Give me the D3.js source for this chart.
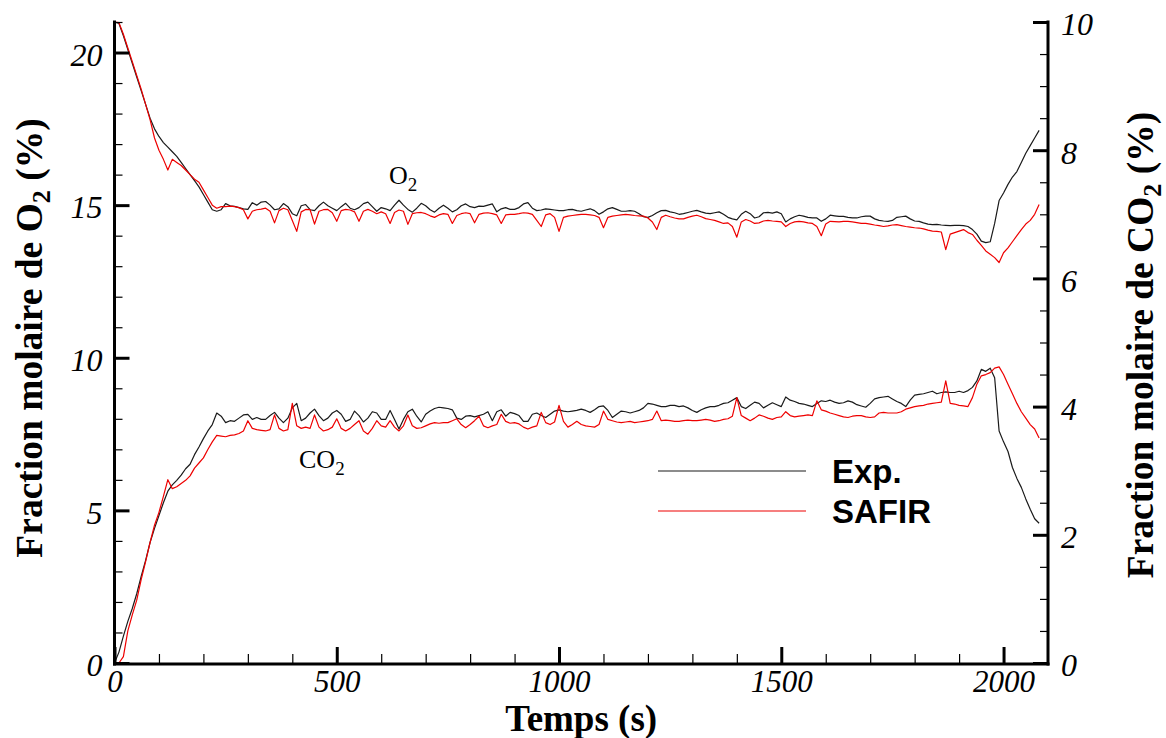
<!DOCTYPE html>
<html><head><meta charset="utf-8">
<script src="https://cdn.jsdelivr.net/npm/d3@7"></script>
<style>body{margin:0;background:#fff}svg{display:block}</style>
</head><body><svg id="c" width="1166" height="738"></svg>
<script>
const times = [
0,10,20,30,40,50,60,70,80,90,
100,110,120,130,140,150,160,170,180,190,
200,210,220,230,240,250,260,270,280,290,
300,310,320,330,340,350,360,370,380,390,
400,410,420,430,440,450,460,470,480,490,
500,510,520,530,540,550,560,570,580,590,
600,610,620,630,640,650,660,670,680,690,
700,710,720,730,740,750,760,770,780,790,
800,810,820,830,840,850,860,870,880,890,
900,910,920,930,940,950,960,970,980,990,
1000,1010,1020,1030,1040,1050,1060,1070,1080,1090,
1100,1110,1120,1130,1140,1150,1160,1170,1180,1190,
1200,1210,1220,1230,1240,1250,1260,1270,1280,1290,
1300,1310,1320,1330,1340,1350,1360,1370,1380,1390,
1400,1410,1420,1430,1440,1450,1460,1470,1480,1490,
1500,1510,1520,1530,1540,1550,1560,1570,1580,1590,
1600,1610,1620,1630,1640,1650,1660,1670,1680,1690,
1700,1710,1720,1730,1740,1750,1760,1770,1780,1790,
1800,1810,1820,1830,1840,1850,1860,1870,1880,1890,
1900,1910,1920,1930,1940,1950,1960,1970,1980,1990,
2000,2010,2020,2030,2040,2050,2060,2070,2080];

const o2Exp = [
21.0,20.95,20.55,20.1,19.65,19.2,18.75,18.3,17.85,17.5,
17.25,17.05,16.9,16.75,16.6,16.4,16.2,16.0,15.8,15.6,
15.35,15.1,14.85,14.8,14.85,15.05,14.98,14.96,14.92,14.88,
14.86,15.08,15.0,15.1,15.12,15.0,14.85,14.88,15.05,14.95,
14.72,14.65,14.98,15.02,14.85,14.82,14.98,15.1,14.98,14.9,
14.82,14.95,15.06,14.9,14.85,14.92,15.05,15.1,14.95,14.8,
14.92,14.88,14.82,15.0,15.16,15.0,14.86,14.77,14.9,15.06,
14.98,14.85,14.77,14.9,15.0,14.9,14.78,14.85,14.98,15.04,
14.95,14.92,14.97,14.96,15.0,15.04,14.78,14.88,14.92,14.86,
14.86,14.92,15.04,15.08,14.9,14.82,14.84,14.88,14.86,14.84,
14.82,14.82,14.85,14.86,14.82,14.8,14.84,14.88,14.82,14.7,
14.78,14.88,14.92,14.86,14.8,14.8,14.82,14.8,14.72,14.62,
14.6,14.66,14.75,14.82,14.83,14.78,14.75,14.7,14.72,14.76,
14.8,14.83,14.78,14.74,14.72,14.75,14.78,14.7,14.6,14.55,
14.52,14.7,14.8,14.72,14.58,14.62,14.75,14.76,14.74,14.78,
14.72,14.45,14.55,14.62,14.67,14.64,14.6,14.58,14.58,14.47,
14.55,14.67,14.65,14.63,14.63,14.6,14.58,14.58,14.62,14.64,
14.64,14.55,14.5,14.48,14.47,14.5,14.6,14.62,14.64,14.55,
14.48,14.47,14.42,14.38,14.36,14.37,14.35,14.34,14.33,14.34,
14.34,14.33,14.3,14.2,14.05,13.82,13.77,13.8,14.4,15.15,
15.4,15.68,15.92,16.1,16.4,16.7,16.95,17.2,17.45];

const o2Safir = [
21.0,20.98,20.6,20.15,19.7,19.25,18.8,18.3,17.8,17.2,
16.8,16.5,16.15,16.5,16.4,16.3,16.15,16.0,15.85,15.75,
15.5,15.25,15.0,14.9,14.95,14.95,14.97,14.95,14.92,14.85,
14.55,14.8,14.85,14.87,14.9,14.8,14.42,14.82,14.9,14.85,
14.5,14.14,14.78,14.86,14.85,14.38,14.8,14.85,14.86,14.75,
14.47,14.82,14.86,14.84,14.78,14.47,14.8,14.86,14.8,14.72,
14.78,14.72,14.4,14.76,14.84,14.8,14.37,14.72,14.75,14.76,
14.72,14.65,14.6,14.68,14.72,14.7,14.4,14.66,14.72,14.75,
14.72,14.42,14.7,14.74,14.75,14.72,14.68,14.4,14.68,14.7,
14.7,14.72,14.75,14.74,14.7,14.5,14.3,14.68,14.72,14.6,
14.14,14.6,14.64,14.66,14.68,14.7,14.7,14.68,14.66,14.6,
14.26,14.6,14.64,14.66,14.68,14.7,14.68,14.66,14.65,14.64,
14.58,14.45,14.2,14.6,14.67,14.62,14.58,14.55,14.55,14.6,
14.64,14.67,14.62,14.56,14.53,14.5,14.45,14.4,14.42,14.3,
13.95,14.45,14.53,14.48,14.4,14.42,14.48,14.5,14.48,14.47,
14.45,14.3,14.4,14.45,14.47,14.45,14.42,14.4,14.3,14.0,
14.38,14.47,14.46,14.45,14.47,14.47,14.45,14.43,14.4,14.4,
14.38,14.35,14.33,14.3,14.32,14.35,14.36,14.33,14.3,14.28,
14.26,14.25,14.22,14.18,14.15,14.14,14.12,13.54,14.05,14.1,
14.15,14.2,14.1,14.04,13.85,13.68,13.5,13.39,13.28,13.12,
13.44,13.6,13.8,14.0,14.2,14.38,14.5,14.7,15.02];

const co2Exp = [
0,0.17,0.42,0.65,0.85,1.08,1.35,1.6,1.88,2.1,
2.3,2.5,2.68,2.78,2.85,2.93,3.03,3.1,3.25,3.37,
3.5,3.62,3.72,3.9,3.85,3.75,3.78,3.77,3.82,3.87,
3.88,3.8,3.83,3.8,3.8,3.86,3.91,3.82,3.75,3.82,
3.98,4.05,3.78,3.82,3.9,3.96,3.86,3.78,3.82,3.9,
3.94,3.88,3.77,3.8,3.93,3.86,3.76,3.82,3.92,3.9,
3.8,3.8,3.94,3.8,3.65,3.8,3.92,3.96,3.85,3.76,
3.88,3.93,3.97,3.99,3.98,3.97,3.95,3.82,3.8,3.85,
3.86,3.84,3.86,3.88,3.92,3.78,3.92,3.95,3.85,3.91,
3.89,3.86,3.77,3.77,3.88,3.9,3.86,3.83,3.88,3.93,
3.95,3.93,3.92,3.93,3.94,3.96,3.94,3.91,3.95,4.0,
4.01,3.94,3.83,3.88,3.93,3.92,3.9,3.92,3.94,3.98,
4.05,4.04,4.02,4.0,4.0,4.02,4.02,4.0,4.01,3.98,
3.94,3.91,3.95,3.98,4.0,4.0,4.02,4.05,4.06,4.1,
4.14,4.0,3.97,4.02,4.07,4.05,3.98,4.02,4.06,4.03,
4.0,4.15,4.1,4.08,4.05,4.04,4.02,4.0,4.05,4.09,
4.08,4.1,4.07,4.05,4.06,4.09,4.07,4.03,4.01,3.99,
4.05,4.12,4.14,4.15,4.16,4.12,4.08,4.05,4.0,4.1,
4.18,4.19,4.2,4.22,4.24,4.2,4.22,4.23,4.22,4.22,
4.24,4.22,4.25,4.3,4.4,4.58,4.55,4.6,4.45,3.62,
3.45,3.3,3.05,2.88,2.74,2.56,2.4,2.25,2.18];

const co2Safir = [
0,0,0.1,0.5,0.75,0.98,1.3,1.58,1.88,2.15,
2.35,2.6,2.86,2.72,2.75,2.8,2.85,2.92,3.04,3.12,
3.2,3.33,3.45,3.55,3.54,3.53,3.55,3.56,3.58,3.62,
3.78,3.66,3.64,3.63,3.62,3.64,3.87,3.66,3.62,3.64,
4.05,3.7,3.66,3.68,3.66,3.87,3.68,3.62,3.64,3.68,
3.81,3.66,3.62,3.66,3.72,3.78,3.62,3.57,3.66,3.78,
3.7,3.68,3.78,3.68,3.62,3.7,3.87,3.7,3.66,3.67,
3.7,3.73,3.75,3.74,3.75,3.75,3.78,3.81,3.72,3.67,
3.72,3.78,3.85,3.7,3.67,3.7,3.72,3.88,3.77,3.74,
3.75,3.73,3.68,3.65,3.68,3.7,3.91,3.75,3.72,3.76,
4.02,3.77,3.68,3.72,3.77,3.72,3.7,3.69,3.68,3.72,
3.93,3.8,3.78,3.76,3.75,3.76,3.77,3.75,3.76,3.77,
3.78,3.8,3.93,3.78,3.79,3.78,3.77,3.77,3.78,3.79,
3.78,3.78,3.79,3.8,3.79,3.77,3.78,3.8,3.81,3.85,
4.14,3.86,3.82,3.78,3.82,3.87,3.85,3.82,3.8,3.83,
3.84,3.92,3.86,3.84,3.85,3.86,3.87,3.86,4.09,3.95,
3.93,3.9,3.88,3.86,3.84,3.83,3.85,3.86,3.86,3.84,
3.83,3.84,3.9,3.91,3.9,3.9,3.9,3.92,3.96,3.98,
4.0,4.01,4.02,4.04,4.05,4.06,4.07,4.4,4.05,4.04,
4.02,4.01,4.0,4.14,4.35,4.48,4.5,4.53,4.6,4.62,
4.5,4.35,4.2,4.05,3.92,3.82,3.72,3.65,3.51];

const xMajorTicks = [0,500,1000,1500,2000];
const xMinorTicks = [100,200,300,400,600,700,800,900,1100,1200,1300,1400,1600,1700,1800,1900];
const yLeftMajor = [0,5,10,15,20];
const yLeftMinor = [1,2,3,4,6,7,8,9,11,12,13,14,16,17,18,19,21];
const yRightMajor = [0,2,4,6,8,10];
const yRightMinor = [0.5,1,1.5,2.5,3,3.5,4.5,5,5.5,6.5,7,7.5,8.5,9,9.5];
const seriesNames = ["Exp.","SAFIR"];
const seriesColors = ["#1a1a1a","#ee0000"];

const X0 = 114.5, X1 = 1048, Y0 = 663, YT = 22;
const svg = d3.select("#c");
const x = d3.scaleLinear().domain([0,2100]).range([X0,X1]);
const yL = d3.scaleLinear().domain([0,21]).range([Y0,YT]);
const yR = d3.scaleLinear().domain([0,10]).range([Y0,YT]);

const SERIF = "'Liberation Serif','Times New Roman',serif";
const SANS = "'Liberation Sans',Arial,sans-serif";

function styleAxis(g){
  g.attr("font-family", SERIF).attr("font-size", 32).attr("font-style","italic");
  g.select(".domain").remove();
  g.selectAll("text").attr("fill","#000");
  g.selectAll(".tick line").attr("stroke","#000");
}

// data lines
function drawLine(vals, yScale, color){
  const line = d3.line().x((d,i)=>x(times[i])).y(d=>yScale(d));
  svg.append("path").datum(vals).attr("d", line)
    .attr("fill","none").attr("stroke", color).attr("stroke-width",1.2)
    .attr("stroke-linejoin","round");
}
drawLine(o2Exp, yL, seriesColors[0]);
drawLine(co2Exp, yR, seriesColors[0]);
drawLine(o2Safir, yL, seriesColors[1]);
drawLine(co2Safir, yR, seriesColors[1]);

// left axis
const gLm = svg.append("g").attr("transform",`translate(${X0},0)`)
  .call(d3.axisLeft(yL).tickValues(yLeftMinor).tickSizeInner(-8).tickSizeOuter(0).tickFormat(""));
styleAxis(gLm); gLm.selectAll(".tick line").attr("stroke-width",1.2);
const gL = svg.append("g").attr("transform",`translate(${X0},0)`)
  .call(d3.axisLeft(yL).tickValues(yLeftMajor).tickSizeInner(-15).tickSizeOuter(0).tickPadding(12).tickFormat(d3.format("d")));
styleAxis(gL); gL.selectAll(".tick line").attr("stroke-width",3);
gL.selectAll("text").attr("dy","0.4em");

// right axis
const gRm = svg.append("g").attr("transform",`translate(${X1},0)`)
  .call(d3.axisRight(yR).tickValues(yRightMinor).tickSizeInner(-8).tickSizeOuter(0).tickFormat(""));
styleAxis(gRm); gRm.selectAll(".tick line").attr("stroke-width",1.2);
const gR = svg.append("g").attr("transform",`translate(${X1},0)`)
  .call(d3.axisRight(yR).tickValues(yRightMajor).tickSizeInner(-15).tickSizeOuter(0).tickPadding(13).tickFormat(d3.format("d")));
styleAxis(gR); gR.selectAll(".tick line").attr("stroke-width",3);
gR.selectAll("text").attr("dy","0.4em");

// bottom axis
const gBm = svg.append("g").attr("transform",`translate(0,${Y0})`)
  .call(d3.axisBottom(x).tickValues(xMinorTicks).tickSizeInner(-9).tickSizeOuter(0).tickFormat(""));
styleAxis(gBm); gBm.selectAll(".tick line").attr("stroke-width",1.2);
const gB = svg.append("g").attr("transform",`translate(0,${Y0})`)
  .call(d3.axisBottom(x).tickValues(xMajorTicks).tickSizeInner(-16).tickSizeOuter(0).tickFormat(d3.format("d")));
styleAxis(gB); gB.selectAll(".tick line").attr("stroke-width",3);
gB.attr("font-size",31);
gB.selectAll("text").attr("y",29).attr("dy","0");

// axis lines
const axG = svg.append("g").attr("stroke","#000").attr("stroke-width",3).attr("stroke-linecap","square");
axG.append("line").attr("x1",X0).attr("x2",X0).attr("y1",YT).attr("y2",Y0+1);
axG.append("line").attr("x1",X1).attr("x2",X1).attr("y1",YT).attr("y2",Y0+1);
axG.append("line").attr("x1",X0).attr("x2",X1).attr("y1",Y0+1).attr("y2",Y0+1);

// axis titles
svg.append("text").attr("x",(X0+X1)/2).attr("y",731).attr("text-anchor","middle")
  .attr("font-family",SERIF).attr("font-weight","bold").attr("font-size",37).text("Temps (s)");

function vTitle(cx, cy, pre, sub, post){
  const t = svg.append("text").attr("transform",`translate(${cx},${cy}) rotate(-90)`)
    .attr("text-anchor","middle").attr("font-family",SERIF).attr("font-weight","bold").attr("font-size",37.5);
  t.append("tspan").text(pre);
  t.append("tspan").attr("dy",8).attr("font-size",26).text(sub);
  t.append("tspan").attr("dy",-8).text(post);
}
vTitle(42, 338, "Fraction molaire de O", "2", " (%)");
vTitle(1153, 345, "Fraction molaire de CO", "2", " (%)");

// annotations
function label(lx, ly, pre, sub){
  const t = svg.append("text").attr("x",lx).attr("y",ly)
    .attr("font-family",SERIF).attr("font-size",26).attr("fill","#000");
  t.append("tspan").text(pre);
  t.append("tspan").attr("dy",7).attr("font-size",19).text(sub);
}
label(389, 184, "O", "2");
label(299, 468, "CO", "2");

// legend
const legY = [471, 511];
seriesNames.forEach((n,i)=>{
  svg.append("line").attr("x1",658).attr("x2",806).attr("y1",legY[i]).attr("y2",legY[i])
    .attr("stroke",seriesColors[i]).attr("stroke-width",1.2);
  svg.append("text").attr("x",832).attr("y",legY[i]).attr("dy","0.36em")
    .attr("font-family",SANS).attr("font-weight","bold").attr("font-size",33).text(n);
});
</script></body></html>
